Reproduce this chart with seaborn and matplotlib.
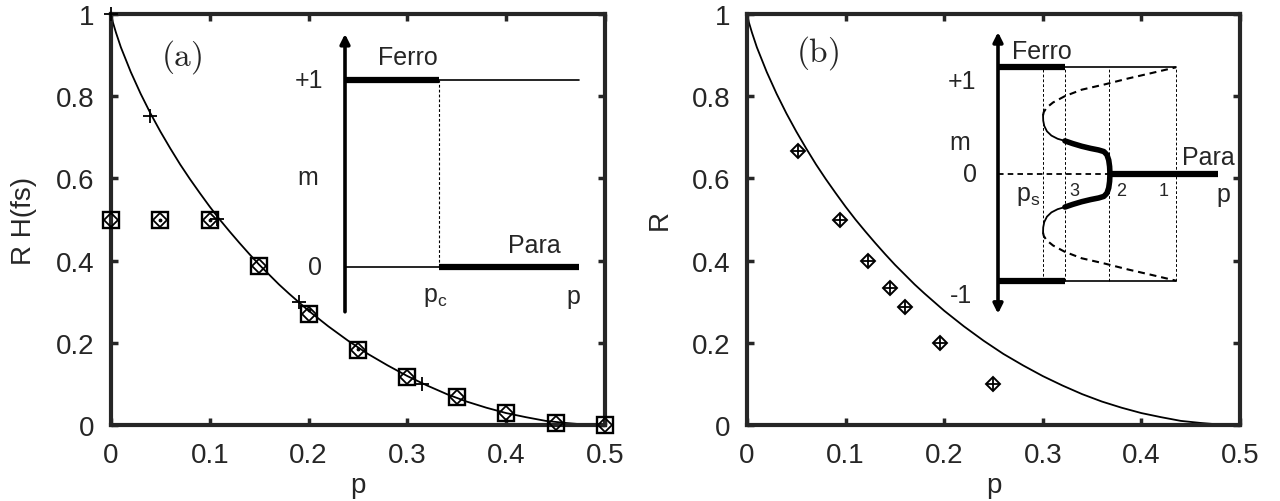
import matplotlib
matplotlib.use("Agg")
import matplotlib.pyplot as plt
import seaborn as sns

sns.set_style("ticks")
plt.rcParams["font.family"] = ["Liberation Sans", "DejaVu Sans"]
plt.rcParams["mathtext.fontset"] = "custom"
plt.rcParams["mathtext.rm"] = "Liberation Sans"
plt.rcParams["mathtext.it"] = "Liberation Sans:italic"
plt.rcParams["lines.scale_dashes"] = False

# ---------------- data ----------------
# capacity curve (same in both panels)
p_curve = [0, 0.001, 0.002, 0.005, 0.01, 0.02, 0.03, 0.04, 0.05, 0.06, 0.07, 0.08,
           0.09, 0.10, 0.11, 0.12, 0.13, 0.14, 0.15, 0.16, 0.17, 0.18, 0.19, 0.20,
           0.22, 0.24, 0.26, 0.28, 0.30, 0.32, 0.34, 0.36, 0.38, 0.40, 0.42, 0.44,
           0.46, 0.48, 0.50]
r_curve = [1.0, 0.989, 0.979, 0.955, 0.919, 0.859, 0.806, 0.758, 0.714, 0.673, 0.634,
           0.598, 0.564, 0.531, 0.500, 0.471, 0.443, 0.416, 0.390, 0.366, 0.342,
           0.320, 0.299, 0.278, 0.240, 0.205, 0.173, 0.145, 0.119, 0.096, 0.075,
           0.057, 0.042, 0.029, 0.019, 0.010, 0.005, 0.001, 0.0]

# panel (a): H(fs) squares / diamonds / dots, R crosses
pa_h = [0, 0.05, 0.10, 0.15, 0.20, 0.25, 0.30, 0.35, 0.40, 0.45, 0.50]
ha = [0.5, 0.5, 0.5, 0.388, 0.27, 0.183, 0.116, 0.067, 0.028, 0.006, 0.0]
pa_dot = [0.05, 0.10, 0.20, 0.25]
ha_dot = [0.5, 0.5, 0.28, 0.185]
pa_r = [0.0, 0.0395, 0.107, 0.19, 0.3145]
ra_r = [1.0, 0.751, 0.501, 0.30, 0.10]

# panel (b): R of the codes
pb = [0.0514, 0.094, 0.123, 0.145, 0.160, 0.196, 0.249]
rb = [0.667, 0.5, 0.4, 0.333, 0.286, 0.2, 0.1]

x_ticks = [0, 0.1, 0.2, 0.3, 0.4, 0.5]
x_labels = ["0", "0.1", "0.2", "0.3", "0.4", "0.5"]
y_ticks = [0, 0.2, 0.4, 0.6, 0.8, 1.0]
y_labels = ["0", "0.2", "0.4", "0.6", "0.8", "1"]

# inset (a) schematic: m against p, with p_c
ia_pc = 0.4
ia_pend = 1.0

# inset (b) schematic: spinodal and transition points
ib_ps = 0.253
ib_p3 = 0.376
ib_p2 = 0.624
ib_p1 = 1.0
ib_pend = 1.236
ib_dash_p = [0.253, 0.257, 0.272, 0.309, 0.376, 0.47, 0.60, 0.73, 0.86, 1.0]
ib_dash_m = [0.55, 0.58, 0.62, 0.67, 0.73, 0.79, 0.84, 0.895, 0.945, 1.0]
ib_thin_p = [0.253, 0.254, 0.26, 0.275, 0.30, 0.335, 0.376]
ib_thin_m = [0.55, 0.50, 0.45, 0.40, 0.36, 0.33, 0.31]
ib_thick_p = [0.376, 0.42, 0.47, 0.52, 0.565, 0.595, 0.612, 0.622, 0.627, 0.629]
ib_thick_m = [0.31, 0.285, 0.26, 0.24, 0.225, 0.21, 0.18, 0.13, 0.07, 0.0]

FS = 20   # axes text
IFS = 18  # inset text

fig = plt.figure(figsize=(12.8, 5.02), dpi=100)
axa = fig.add_axes([111 / 1280, 1 - 426 / 502, 494 / 1280, 411 / 502])
axb = fig.add_axes([747 / 1280, 1 - 426 / 502, 493 / 1280, 411 / 502])

# ---------------- panel (a) ----------------
sns.lineplot(x=p_curve, y=r_curve, ax=axa, color="k", lw=1.3, sort=False, estimator=None)
sns.lineplot(x=pa_h, y=ha, ax=axa, linestyle="", marker="s", markersize=12,
             mfc="none", mec="k", mew=1.7, clip_on=False, zorder=4)
sns.lineplot(x=pa_h, y=ha, ax=axa, linestyle="", marker="D", markersize=7.3,
             mfc="none", mec="k", mew=1.3, clip_on=False, zorder=4)
sns.lineplot(x=pa_dot, y=ha_dot, ax=axa, linestyle="", marker="o", markersize=2,
             mfc="k", mec="k", clip_on=False, zorder=4)
sns.lineplot(x=pa_r, y=ra_r, ax=axa, linestyle="", marker="+", markersize=10,
             mec="k", mew=1.3, clip_on=False, zorder=4)
axa.text(0.072, 0.898, r"$\mathrm{(a)}$", math_fontfamily="cm", fontsize=24,
         ha="center", va="center")
axa.set_ylabel("R H(fs)", fontsize=FS)

# ---------------- panel (b) ----------------
sns.lineplot(x=p_curve, y=r_curve, ax=axb, color="k", lw=1.3, sort=False, estimator=None)
sns.lineplot(x=pb, y=rb, ax=axb, linestyle="", marker="D", markersize=7,
             mfc="none", mec="k", mew=1.4, clip_on=False, zorder=4)
sns.lineplot(x=pb, y=rb, ax=axb, linestyle="", marker="+", markersize=9.5,
             mec="k", mew=1.3, clip_on=False, zorder=4)
axb.text(0.072, 0.907, r"$\mathrm{(b)}$", math_fontfamily="cm", fontsize=24,
         ha="center", va="center")
axb.set_ylabel("R", fontsize=FS)

for ax in (axa, axb):
    ax.set_xlim(0, 0.5)
    ax.set_ylim(0, 1)
    ax.set_xticks(x_ticks)
    ax.set_xticklabels(x_labels)
    ax.set_yticks(y_ticks)
    ax.set_yticklabels(y_labels)
    ax.tick_params(direction="in", length=5, width=2.5, top=True, right=True,
                   labelsize=FS, pad=12)
    for s in ax.spines.values():
        s.set_linewidth(3)
    ax.set_xlabel("p", fontsize=FS)
    ax.xaxis.set_label_coords(0.5, -0.115)
    ax.yaxis.set_label_coords(-0.15, 0.5)

# ---------------- inset (a) ----------------
ia = fig.add_axes([274.8 / 1280, 1 - 324 / 502, 327.6 / 1280, 308.5 / 502])
ia.set_xlim(-0.3, 1.1)
ia.set_ylim(-0.3, 1.35)
ia.axis("off")
ia.patch.set_alpha(0)
ia.annotate("", xy=(0, 1.246), xytext=(0, -0.24),
            arrowprops=dict(arrowstyle="-|>", color="k", lw=2.6, mutation_scale=14,
                            shrinkA=0, shrinkB=0))
ia.plot([0, ia_pc], [1, 1], color="k", lw=4.5, solid_capstyle="butt")
ia.plot([ia_pc, ia_pend], [1, 1], color="k", lw=1.2)
ia.plot([0, ia_pc], [0, 0], color="k", lw=1.2)
ia.plot([ia_pc, ia_pend], [0, 0], color="k", lw=4.5, solid_capstyle="butt")
ia.plot([ia_pc, ia_pc], [0, 1], color="k", lw=0.8, dashes=(2, 1.5))
ia.text(0.27, 1.123, "Ferro", fontsize=IFS, ha="center", va="center")
ia.text(-0.094, 1.0, "+1", fontsize=IFS, ha="right", va="center")
ia.text(-0.158, 0.48, "m", fontsize=IFS, ha="center", va="center")
ia.text(-0.1, 0.0, "0", fontsize=IFS, ha="right", va="center")
ia.text(ia_pc - 0.015, -0.155, r"p$_\mathrm{c}$", fontsize=IFS, ha="center", va="center")
ia.text(0.975, -0.155, "p", fontsize=IFS, ha="center", va="center")
ia.text(0.81, 0.118, "Para", fontsize=IFS, ha="center", va="center")

# ---------------- inset (b) ----------------
ib = fig.add_axes([926.8 / 1280, 1 - 335 / 502, 320.4 / 1280, 314.7 / 502])
ib.set_xlim(-0.4, 1.4)
ib.set_ylim(-1.5, 1.45)
ib.axis("off")
ib.patch.set_alpha(0)
ib.annotate("", xy=(0, 1.33), xytext=(0, -1.31),
            arrowprops=dict(arrowstyle="<|-|>", color="k", lw=2.6, mutation_scale=14,
                            shrinkA=0, shrinkB=0))
for lev in (1, -1):
    ib.plot([0, ib_p3], [lev, lev], color="k", lw=4.5, solid_capstyle="butt")
    ib.plot([ib_p3, ib_p1], [lev, lev], color="k", lw=1.2)
for pv in (ib_ps, ib_p3, ib_p2, ib_p1):
    ib.plot([pv, pv], [-1, 1], color="k", lw=0.7, dashes=(2, 1.5))
ib.plot([0, ib_p2], [0, 0], color="k", lw=1.3, dashes=(4, 3))
ib.plot([ib_p2, ib_pend], [0, 0], color="k", lw=4.5, solid_capstyle="butt")
for sgn in (1, -1):
    sns.lineplot(x=ib_dash_p, y=[sgn * v for v in ib_dash_m], ax=ib, color="k",
                 lw=1.5, dashes=(5, 3.5), sort=False, estimator=None)
    sns.lineplot(x=ib_thin_p, y=[sgn * v for v in ib_thin_m], ax=ib, color="k",
                 lw=1.3, sort=False, estimator=None)
    sns.lineplot(x=ib_thick_p, y=[sgn * v for v in ib_thick_m], ax=ib, color="k",
                 lw=4.0, sort=False, estimator=None, solid_capstyle="round")
ib.text(0.077, 1.156, "Ferro", fontsize=IFS, ha="left", va="center")
ib.text(-0.12, 0.874, "+1", fontsize=IFS, ha="right", va="center")
ib.text(-0.213, 0.30, "m", fontsize=IFS, ha="center", va="center")
ib.text(-0.12, 0.0, "0", fontsize=IFS, ha="right", va="center")
ib.text(-0.148, -1.134, "-1", fontsize=IFS, ha="right", va="center")
ib.text(0.17, -0.2, r"p$_\mathrm{s}$", fontsize=IFS, ha="center", va="center")
ib.text(0.429, -0.156, "3", fontsize=13, ha="center", va="center")
ib.text(0.691, -0.156, "2", fontsize=13, ha="center", va="center")
ib.text(0.929, -0.156, "1", fontsize=13, ha="center", va="center")
ib.text(1.266, -0.19, "p", fontsize=IFS, ha="center", va="center")
ib.text(1.18, 0.156, "Para", fontsize=IFS, ha="center", va="center")

fig.savefig("out.png", dpi=100)
